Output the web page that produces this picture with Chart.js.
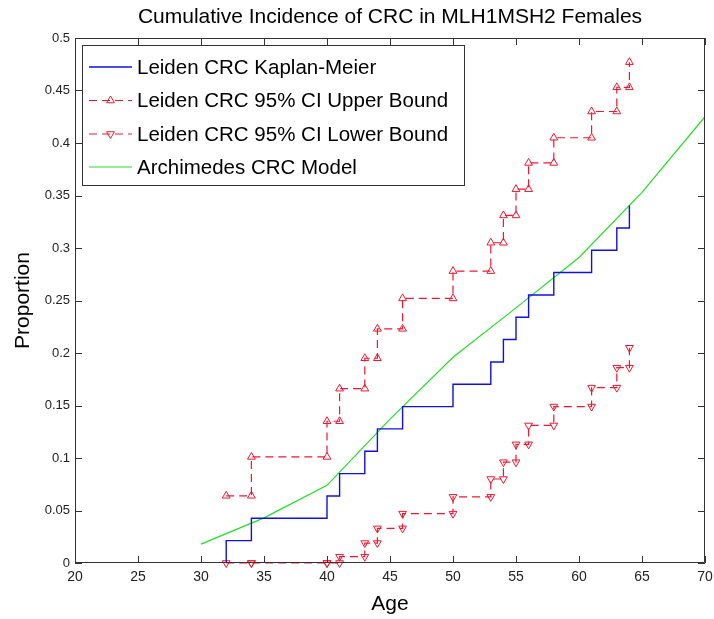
<!DOCTYPE html>
<html>
<head>
    <meta charset="UTF-8">
    <title>Cumulative Incidence of CRC in MLH1MSH2 Females</title>
    <script src="https://cdn.jsdelivr.net/npm/chart.js"></script>
    <style>
        body { margin: 0; background: #fff; }
    </style>
</head>
<body>
    <canvas id="crcChart" width="714" height="619"></canvas>

    <script>
        // ages at which the Kaplan-Meier curve steps
        var stepAges = [32, 34, 40, 41, 43, 44, 46, 50, 53, 54, 55, 56, 58, 61, 63, 64];
        var kmValues = [0.0213, 0.0426, 0.0638, 0.0851, 0.1064, 0.1277, 0.1489, 0.1702,
                        0.1915, 0.2128, 0.2340, 0.2553, 0.2766, 0.2979, 0.3191, 0.3404];
        var upperValues = [0.064, 0.101, 0.135, 0.166, 0.195, 0.223, 0.252, 0.278,
                           0.305, 0.331, 0.356, 0.381, 0.405, 0.430, 0.453, 0.477];
        var lowerValues = [0, 0, 0, 0.006, 0.019, 0.033, 0.047, 0.063,
                           0.080, 0.096, 0.113, 0.131, 0.149, 0.167, 0.186, 0.205];

        // Archimedes model
        var modelAges = [30, 35, 40, 45, 50, 55, 60, 65, 70];
        var modelValues = [0.018, 0.043, 0.074, 0.137, 0.196, 0.243, 0.291, 0.353, 0.425];

        var xTicks = [20, 25, 30, 35, 40, 45, 50, 55, 60, 65, 70];
        var yTicks = [0, 0.05, 0.1, 0.15, 0.2, 0.25, 0.3, 0.35, 0.4, 0.45, 0.5];

        var legendLabels = ['Leiden CRC Kaplan-Meier', 'Leiden CRC 95% CI Upper Bound',
                            'Leiden CRC 95% CI Lower Bound', 'Archimedes CRC Model'];

        var FONT = '"Liberation Sans", Arial, Helvetica, sans-serif';
        var RED = '#f01830';

        // KM curve starts at zero at the first age
        var kmPoints = [{ x: stepAges[0], y: 0 }];
        for (var i = 0; i < stepAges.length; i++) {
            kmPoints.push({ x: stepAges[i], y: kmValues[i] });
        }

        // stairs with a marker at every corner (matlab style)
        function stairPoints(values) {
            var pts = [];
            for (var i = 0; i < stepAges.length; i++) {
                pts.push({ x: stepAges[i], y: values[i] });
                if (i + 1 < stepAges.length) {
                    pts.push({ x: stepAges[i + 1], y: values[i] });
                }
            }
            return pts;
        }

        var modelPoints = modelAges.map(function (a, i) {
            return { x: a, y: modelValues[i] };
        });

        // inward ticks, box, title, axis titles and legend
        var matlabFrame = {
            id: 'matlabFrame',
            afterDatasetsDraw: function (chart) {
                var ctx = chart.ctx;
                var a = chart.chartArea;
                var xs = chart.scales.x, ys = chart.scales.y;
                var tl = 7;
                ctx.save();
                ctx.strokeStyle = '#333';
                ctx.lineWidth = 1;
                ctx.beginPath();
                ctx.rect(a.left + 0.5, a.top + 0.5, a.right - a.left - 1, a.bottom - a.top - 1);
                xTicks.forEach(function (t) {
                    var px = Math.round(xs.getPixelForValue(t)) + 0.5;
                    ctx.moveTo(px, a.bottom); ctx.lineTo(px, a.bottom - tl);
                    ctx.moveTo(px, a.top); ctx.lineTo(px, a.top + tl);
                });
                yTicks.forEach(function (t) {
                    var py = Math.round(ys.getPixelForValue(t)) + 0.5;
                    ctx.moveTo(a.left, py); ctx.lineTo(a.left + tl, py);
                    ctx.moveTo(a.right, py); ctx.lineTo(a.right - tl, py);
                });
                ctx.stroke();

                // titles
                ctx.fillStyle = '#000';
                ctx.textAlign = 'center';
                ctx.textBaseline = 'middle';
                ctx.font = '21px ' + FONT;
                ctx.fillText('Cumulative Incidence of CRC in MLH1MSH2 Females', (a.left + a.right) / 2, 17);
                ctx.fillText('Age', (a.left + a.right) / 2, 604);
                ctx.save();
                ctx.translate(23, (a.top + a.bottom) / 2);
                ctx.rotate(-Math.PI / 2);
                ctx.fillText('Proportion', 0, 0);
                ctx.restore();

                // legend
                var bx = 82, by = 45, bw = 382, bh = 140;
                ctx.fillStyle = '#fff';
                ctx.fillRect(bx, by, bw, bh);
                ctx.strokeStyle = '#333';
                ctx.strokeRect(bx + 0.5, by + 0.5, bw, bh);
                ctx.font = '20.5px ' + FONT;
                ctx.textAlign = 'left';
                var rows = [67, 100.5, 134, 167];
                chart.data.datasets.forEach(function (ds, i) {
                    var y = rows[i];
                    ctx.save();
                    ctx.strokeStyle = ds.borderColor;
                    ctx.lineWidth = ds.borderWidth;
                    ctx.setLineDash(ds.borderDash || []);
                    ctx.beginPath();
                    ctx.moveTo(89, y); ctx.lineTo(132, y);
                    ctx.stroke();
                    ctx.restore();
                    if (ds.pointRadius > 0) {
                        ctx.save();
                        ctx.setLineDash([]);
                        ctx.strokeStyle = ds.borderColor;
                        ctx.fillStyle = 'rgba(255,255,255,0)';
                        ctx.lineWidth = 1;
                        Chart.helpers.drawPoint(ctx, {
                            pointStyle: 'triangle', radius: ds.pointRadius,
                            rotation: ds.pointRotation || 0, borderWidth: 1
                        }, 110.5, y);
                        ctx.restore();
                    }
                    ctx.fillStyle = '#000';
                    ctx.fillText(legendLabels[i], 137, y + 1);
                });
                ctx.restore();
            }
        };

        var ctx = document.getElementById('crcChart').getContext('2d');
        var crcChart = new Chart(ctx, {
            type: 'line',
            data: {
                datasets: [{
                    label: legendLabels[0],
                    data: kmPoints,
                    stepped: true,
                    borderColor: '#1010e0',
                    borderWidth: 1.4,
                    pointRadius: 0
                }, {
                    label: legendLabels[1],
                    data: stairPoints(upperValues),
                    borderColor: RED,
                    borderWidth: 1.2,
                    borderDash: [8, 5],
                    pointStyle: 'triangle',
                    pointRadius: 4.5,
                    pointBorderWidth: 1,
                    pointBackgroundColor: 'rgba(255,255,255,0)',
                    pointBorderColor: RED
                }, {
                    label: legendLabels[2],
                    data: stairPoints(lowerValues),
                    borderColor: RED,
                    borderWidth: 1.2,
                    borderDash: [8, 5],
                    pointStyle: 'triangle',
                    pointRotation: 180,
                    pointRadius: 4.5,
                    pointBorderWidth: 1,
                    pointBackgroundColor: 'rgba(255,255,255,0)',
                    pointBorderColor: RED,
                    clip: 8
                }, {
                    label: legendLabels[3],
                    data: modelPoints,
                    borderColor: '#22e022',
                    borderWidth: 1.2,
                    pointRadius: 0
                }]
            },
            options: {
                responsive: false,
                animation: false,
                devicePixelRatio: 1,
                layout: { padding: { top: 38, right: 9, left: 0, bottom: 0 } },
                plugins: {
                    legend: { display: false },
                    title: { display: false },
                    tooltip: { enabled: false }
                },
                elements: { line: { tension: 0 } },
                scales: {
                    x: {
                        type: 'linear',
                        min: 20,
                        max: 70,
                        afterBuildTicks: function (scale) {
                            scale.ticks = xTicks.map(function (v) { return { value: v }; });
                        },
                        afterFit: function (scale) {
                            scale.height = 56;
                            scale.paddingLeft = 0;
                            scale.paddingRight = 0;
                        },
                        grid: { display: false, drawTicks: false },
                        border: { display: false },
                        ticks: {
                            padding: 6,
                            color: '#222',
                            font: { family: FONT, size: 14 },
                            maxRotation: 0,
                            autoSkip: false
                        }
                    },
                    y: {
                        type: 'linear',
                        min: 0,
                        max: 0.5,
                        afterBuildTicks: function (scale) {
                            scale.ticks = yTicks.map(function (v) { return { value: v }; });
                        },
                        afterFit: function (scale) {
                            scale.width = 75;
                            scale.paddingTop = 0;
                            scale.paddingBottom = 0;
                        },
                        grid: { display: false, drawTicks: false },
                        border: { display: false },
                        ticks: {
                            padding: 5,
                            color: '#222',
                            font: { family: FONT, size: 13 },
                            autoSkip: false,
                            callback: function (v) { return String(Math.round(v * 100) / 100); }
                        }
                    }
                }
            },
            plugins: [matlabFrame]
        });
    </script>
</body>
</html>
